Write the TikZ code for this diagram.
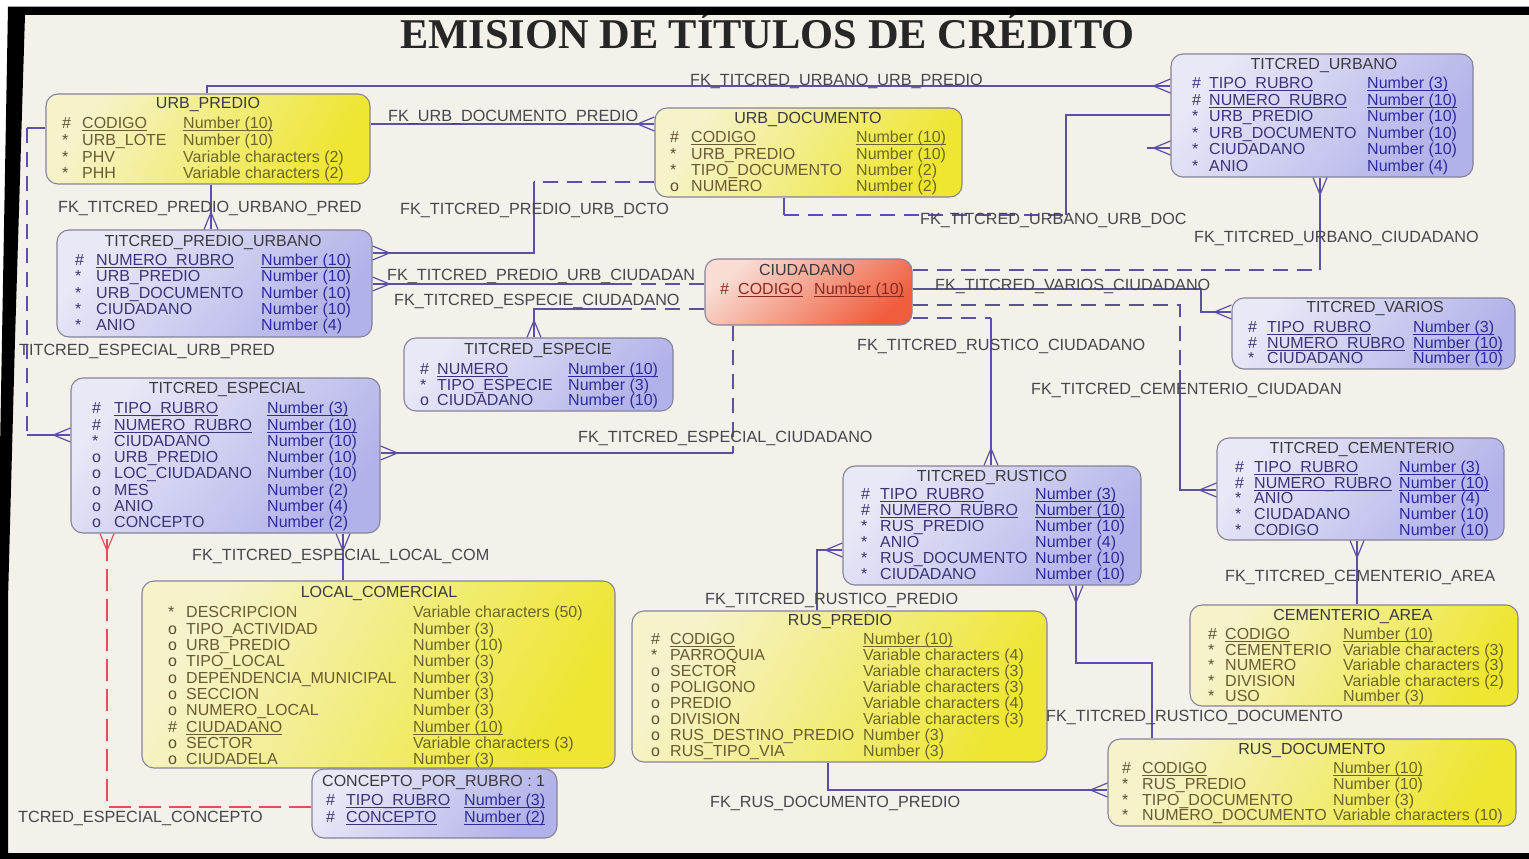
\documentclass[tikz,border=0pt]{standalone}
\usepackage{fontspec}
\setmainfont{Liberation Sans}
\newfontfamily\ttlfont{Liberation Serif}
\usetikzlibrary{decorations.markings}

\definecolor{bgc}{HTML}{F4F1EB}
\definecolor{fkc}{HTML}{5B50A5}
\definecolor{redc}{HTML}{E0505A}
\definecolor{lblc}{HTML}{46464C}
\definecolor{ttlc}{HTML}{3A3A3E}
\definecolor{bordc}{HTML}{85839A}
\definecolor{yA}{HTML}{F6F3CC}
\definecolor{yB}{HTML}{EEE631}
\definecolor{bA}{HTML}{E8E8F7}
\definecolor{bB}{HTML}{B2B2EA}
\definecolor{rA}{HTML}{F9DDD4}
\definecolor{rB}{HTML}{F05E3E}
\definecolor{ysym}{HTML}{5E5030}
\definecolor{ytxt}{HTML}{6A5A34}
\definecolor{ytyp}{HTML}{6C6628}
\definecolor{bsym}{HTML}{3A3475}
\definecolor{btxt}{HTML}{3A3478}
\definecolor{btyp}{HTML}{2D2C9A}
\definecolor{rsym}{HTML}{8A2A20}
\definecolor{rtxt}{HTML}{8A2A20}
\definecolor{rtyp}{HTML}{8A2A20}

\newcommand\uln[1]{\setbox0=\hbox{#1}\rlap{\rule[-2.3pt]{\wd0}{0.7pt}}\box0}
\newcommand\erows[5]{\vtop{\baselineskip=#1pt\lineskiplimit=-100pt\lineskip=0pt\def\symw{#2pt}\def\namew{#3pt}\def\csym{#4sym}\def\ctxt{#4txt}\def\ctyp{#4typ}#5}}
\newcommand\er[3]{\hbox{\makebox[\symw][l]{\color{\csym}#1}\makebox[\namew][l]{\color{\ctxt}#2}{\color{\ctyp}#3}}}

\tikzset{
  ent/.style={draw=bordc, line width=1.1pt, rounded corners=12pt, inner sep=0pt},
  yent/.style={ent, top color=yA, bottom color=yB, shading angle=60},
  bent/.style={ent, top color=bA, bottom color=bB, shading angle=50},
  rent/.style={ent, top color=rA, bottom color=rB, shading angle=40},
  ttl/.style={font=\fontsize{16}{18}\selectfont, text=ttlc, inner sep=0pt, anchor=base},
  rows/.style={font=\fontsize{16}{16.3}\selectfont, inner sep=0pt, anchor=base west},
  lbl/.style={font=\fontsize{16.2}{18}\selectfont, text=lblc, inner sep=0pt, anchor=base west},
  fk/.style={draw=fkc, line width=1.2pt},
  dsh/.style={dash pattern=on 15pt off 9pt},
  rdsh/.style={dash pattern=on 22pt off 8pt},
  crow/.style={postaction={decorate, decoration={markings, mark=at position 1 with {\draw[line width=1.2pt, solid, #1] (-17pt,0pt) -- (0pt,7pt) (-17pt,0pt) -- (0pt,-7pt);}}}},
  crow/.default=fkc
}

\begin{document}
\begin{tikzpicture}[x=1pt,y=-1pt]
\useasboundingbox (0,0) rectangle (1529,859);
\fill[white] (0,0) rectangle (1529,859);
\fill[bgc] (25,15) -- (1529,15) -- (1529,853) -- (8,853) -- (8,600) -- (15,340) -- cycle;

% title
\node[font=\ttlfont\bfseries\fontsize{42.4}{50}\selectfont, text=black!85, inner sep=0pt, anchor=base] (title) at (767.5,48.5) {EMISION DE TÍTULOS DE CRÉDITO};

% entity boxes
\node[yent, minimum width=324pt, minimum height=90pt] (urbpredio) at (208,139) {};
\node[yent, minimum width=307pt, minimum height=89pt] (urbdoc) at (808.5,152.5) {};
\node[bent, minimum width=302pt, minimum height=123pt] (titurbano) at (1322,115.5) {};
\node[bent, minimum width=315pt, minimum height=107pt] (titpredurb) at (214.5,283.5) {};
\node[rent, minimum width=207pt, minimum height=66pt] (ciudadano) at (808.5,292) {};
\node[bent, minimum width=283pt, minimum height=71pt] (titvarios) at (1373.5,333.5) {};
\node[bent, minimum width=269pt, minimum height=73pt] (titespecie) at (538.5,374.5) {};
\node[bent, minimum width=309pt, minimum height=155pt] (titespecial) at (225.5,455.5) {};
\node[bent, minimum width=287pt, minimum height=102pt] (titcement) at (1360.5,489) {};
\node[bent, minimum width=298pt, minimum height=119pt] (titrustico) at (992,525.5) {};
\node[yent, minimum width=473pt, minimum height=187pt] (localcom) at (378.5,674.5) {};
\node[bent, minimum width=245pt, minimum height=69pt] (concepto) at (434.5,803.5) {};
\node[yent, minimum width=415pt, minimum height=151pt] (ruspredio) at (839.5,686.5) {};
\node[yent, minimum width=328pt, minimum height=101pt] (cemarea) at (1354,655.5) {};
\node[yent, minimum width=408pt, minimum height=87pt] (rusdoc) at (1312,782.5) {};

% bend coordinates
\coordinate (dA) at (534,182);
\coordinate (eA) at (620,284);
\coordinate (fA) at (620,309);
\coordinate (gA) at (27,128);
\coordinate (gB) at (27,435);
\coordinate (hA) at (733,453);
\coordinate (jA) at (107,807);
\coordinate (kA) at (784,215);
\coordinate (kB) at (1066,215);
\coordinate (kC) at (1147,148);
\coordinate (lA) at (1320,270);
\coordinate (mA) at (1201,289);
\coordinate (nA) at (991,318);
\coordinate (oA) at (1180,305);
\coordinate (oB) at (1180,370);
\coordinate (rA) at (1152,663);

% connectors
\draw[fk,crow] (urbpredio.north -| 207,0) |- (titurbano.west |- 0,86);
\draw[fk,crow] (urbpredio.east |- 0,124) -- (urbdoc.west |- 0,124);
\draw[fk,crow] (urbpredio.south -| 211,0) -- (titpredurb.north -| 211,0);
\draw[fk,dsh] (urbdoc.west |- dA) -- (dA);
\draw[fk,crow] (dA) |- (titpredurb.east |- 0,253);
\draw[fk,dsh] (ciudadano.west |- eA) -- (eA);
\draw[fk,crow] (eA) -- (titpredurb.east |- eA);
\draw[fk,dsh] (ciudadano.west |- fA) -- (fA);
\draw[fk,crow] (fA) -| (titespecie.north -| dA);
\draw[fk] (urbpredio.west |- gA) -- (gA);
\draw[fk,dsh] (gA) -- (gB);
\draw[fk,crow] (gB) -- (titespecial.west |- gB);
\draw[fk,dsh] (ciudadano.south -| hA) -- (hA);
\draw[fk,crow] (hA) -- (titespecial.east |- hA);
\draw[fk,crow] (localcom.north -| 343,0) -- (titespecial.south -| 343,0);
\draw[draw=redc, line width=1.1pt, rdsh, crow=redc] (concepto.west |- jA) -- (jA) -- (titespecial.south -| jA);
\draw[fk] (urbdoc.south -| kA) -- (kA);
\draw[fk,dsh] (kA) -- (kB);
\draw[fk] (kB) |- (titurbano.west |- 0,115);
\draw[fk,crow] (kC) -- (titurbano.west |- kC);
\draw[fk,dsh] (ciudadano.east |- lA) -- (lA);
\draw[fk,crow] (lA) -- (titurbano.south -| lA);
\draw[fk,crow] (ciudadano.east |- mA) -- (mA) |- (titvarios.west |- 0,312);
\draw[fk,dsh] (ciudadano.east |- nA) -- (nA);
\draw[fk,crow] (nA) -- (titrustico.north -| nA);
\draw[fk,dsh] (ciudadano.east |- oA) -- (oA) -- (oB);
\draw[fk,crow] (oB) |- (titcement.west |- 0,490);
\draw[fk,crow] (cemarea.north -| 1357,0) -- (titcement.south -| 1357,0);
\draw[fk,crow] (ruspredio.north -| 817,0) |- (titrustico.west |- 0,550);
\draw[fk,crow] (rusdoc.north -| rA) -- (rA) -| (titrustico.south -| 1076,0);
\draw[fk,crow] (ruspredio.south -| 828,0) |- (rusdoc.west |- 0,790);

% entity titles
\node[ttl] (urbpredio-t) at (208,108.7) {URB\_PREDIO};
\node[ttl] (urbdoc-t) at (808,123.5) {URB\_DOCUMENTO};
\node[ttl] (titurbano-t) at (1324,69.5) {TITCRED\_URBANO};
\node[ttl] (titpredurb-t) at (213,246.7) {TITCRED\_PREDIO\_URBANO};
\node[ttl] (ciudadano-t) at (807,275.7) {CIUDADANO};
\node[ttl] (titvarios-t) at (1375,312.7) {TITCRED\_VARIOS};
\node[ttl] (titespecie-t) at (538,354.7) {TITCRED\_ESPECIE};
\node[ttl] (titespecial-t) at (227,393.7) {TITCRED\_ESPECIAL};
\node[ttl] (titcement-t) at (1362,453.7) {TITCRED\_CEMENTERIO};
\node[ttl] (titrustico-t) at (992,481.7) {TITCRED\_RUSTICO};
\node[ttl] (localcom-t) at (379,597.7) {LOCAL\_COMERCIAL};
\node[ttl, anchor=base west] (concepto-t) at (322,786.7) {CONCEPTO\_POR\_RUBRO : 1};
\node[ttl] (ruspredio-t) at (840,625.7) {RUS\_PREDIO};
\node[ttl] (cemarea-t) at (1353,620.7) {CEMENTERIO\_AREA};
\node[ttl] (rusdoc-t) at (1312,754.7) {RUS\_DOCUMENTO};

% entity rows
\node[rows] (urbpredio-r) at (62,128.7) {\erows{16.7}{20}{101}{y}{%
 \er{\#}{\uln{CODIGO}}{\uln{Number (10)}}%
 \er{*}{URB\_LOTE}{Number (10)}%
 \er{*}{PHV}{Variable characters (2)}%
 \er{*}{PHH}{Variable characters (2)}}};
\node[rows] (urbdoc-r) at (670,142.7) {\erows{16.3}{21}{165}{y}{%
 \er{\#}{\uln{CODIGO}}{\uln{Number (10)}}%
 \er{*}{URB\_PREDIO}{Number (10)}%
 \er{*}{TIPO\_DOCUMENTO}{Number (2)}%
 \er{o}{NUMERO}{Number (2)}}};
\node[rows] (titurbano-r) at (1192,88.7) {\erows{16.5}{17}{158}{b}{%
 \er{\#}{\uln{TIPO\_RUBRO}}{\uln{Number (3)}}%
 \er{\#}{\uln{NUMERO\_RUBRO}}{\uln{Number (10)}}%
 \er{*}{URB\_PREDIO}{Number (10)}%
 \er{*}{URB\_DOCUMENTO}{Number (10)}%
 \er{*}{CIUDADANO}{Number (10)}%
 \er{*}{ANIO}{Number (4)}}};
\node[rows] (titpredurb-r) at (75,265.7) {\erows{16.25}{21}{165}{b}{%
 \er{\#}{\uln{NUMERO\_RUBRO}}{\uln{Number (10)}}%
 \er{*}{URB\_PREDIO}{Number (10)}%
 \er{*}{URB\_DOCUMENTO}{Number (10)}%
 \er{*}{CIUDADANO}{Number (10)}%
 \er{*}{ANIO}{Number (4)}}};
\node[rows] (ciudadano-r) at (720,294.7) {\erows{16}{18}{76}{r}{%
 \er{\#}{\uln{CODIGO}}{\uln{Number (10)}}}};
\node[rows] (titvarios-r) at (1248,332.7) {\erows{15.5}{19}{146}{b}{%
 \er{\#}{\uln{TIPO\_RUBRO}}{\uln{Number (3)}}%
 \er{\#}{\uln{NUMERO\_RUBRO}}{\uln{Number (10)}}%
 \er{*}{CIUDADANO}{Number (10)}}};
\node[rows] (titespecie-r) at (420,374.7) {\erows{15.5}{17}{131}{b}{%
 \er{\#}{\uln{NUMERO}}{\uln{Number (10)}}%
 \er{*}{TIPO\_ESPECIE}{Number (3)}%
 \er{o}{CIUDADANO}{Number (10)}}};
\node[rows] (titespecial-r) at (92,413.7) {\erows{16.3}{22}{153}{b}{%
 \er{\#}{\uln{TIPO\_RUBRO}}{\uln{Number (3)}}%
 \er{\#}{\uln{NUMERO\_RUBRO}}{\uln{Number (10)}}%
 \er{*}{CIUDADANO}{Number (10)}%
 \er{o}{URB\_PREDIO}{Number (10)}%
 \er{o}{LOC\_CIUDADANO}{Number (10)}%
 \er{o}{MES}{Number (2)}%
 \er{o}{ANIO}{Number (4)}%
 \er{o}{CONCEPTO}{Number (2)}}};
\node[rows] (titcement-r) at (1235,472.7) {\erows{15.6}{19}{145}{b}{%
 \er{\#}{\uln{TIPO\_RUBRO}}{\uln{Number (3)}}%
 \er{\#}{\uln{NUMERO\_RUBRO}}{\uln{Number (10)}}%
 \er{*}{ANIO}{Number (4)}%
 \er{*}{CIUDADANO}{Number (10)}%
 \er{*}{CODIGO}{Number (10)}}};
\node[rows] (titrustico-r) at (861,499.7) {\erows{16}{19}{155}{b}{%
 \er{\#}{\uln{TIPO\_RUBRO}}{\uln{Number (3)}}%
 \er{\#}{\uln{NUMERO\_RUBRO}}{\uln{Number (10)}}%
 \er{*}{RUS\_PREDIO}{Number (10)}%
 \er{*}{ANIO}{Number (4)}%
 \er{*}{RUS\_DOCUMENTO}{Number (10)}%
 \er{*}{CIUDADANO}{Number (10)}}};
\node[rows] (localcom-r) at (168,617.7) {\erows{16.33}{18}{227}{y}{%
 \er{*}{DESCRIPCION}{Variable characters (50)}%
 \er{o}{TIPO\_ACTIVIDAD}{Number (3)}%
 \er{o}{URB\_PREDIO}{Number (10)}%
 \er{o}{TIPO\_LOCAL}{Number (3)}%
 \er{o}{DEPENDENCIA\_MUNICIPAL}{Number (3)}%
 \er{o}{SECCION}{Number (3)}%
 \er{o}{NUMERO\_LOCAL}{Number (3)}%
 \er{\#}{\uln{CIUDADANO}}{\uln{Number (10)}}%
 \er{o}{SECTOR}{Variable characters (3)}%
 \er{o}{CIUDADELA}{Number (3)}}};
\node[rows] (concepto-r) at (326,805.7) {\erows{17}{20}{118}{b}{%
 \er{\#}{\uln{TIPO\_RUBRO}}{\uln{Number (3)}}%
 \er{\#}{\uln{CONCEPTO}}{\uln{Number (2)}}}};
\node[rows] (ruspredio-r) at (651,644.7) {\erows{16}{19}{193}{y}{%
 \er{\#}{\uln{CODIGO}}{\uln{Number (10)}}%
 \er{*}{PARROQUIA}{Variable characters (4)}%
 \er{o}{SECTOR}{Variable characters (3)}%
 \er{o}{POLIGONO}{Variable characters (3)}%
 \er{o}{PREDIO}{Variable characters (4)}%
 \er{o}{DIVISION}{Variable characters (3)}%
 \er{o}{RUS\_DESTINO\_PREDIO}{Number (3)}%
 \er{o}{RUS\_TIPO\_VIA}{Number (3)}}};
\node[rows] (cemarea-r) at (1208,639.7) {\erows{15.5}{17}{118}{y}{%
 \er{\#}{\uln{CODIGO}}{\uln{Number (10)}}%
 \er{*}{CEMENTERIO}{Variable characters (3)}%
 \er{*}{NUMERO}{Variable characters (3)}%
 \er{*}{DIVISION}{Variable characters (2)}%
 \er{*}{USO}{Number (3)}}};
\node[rows] (rusdoc-r) at (1122,773.7) {\erows{15.7}{20}{191}{y}{%
 \er{\#}{\uln{CODIGO}}{\uln{Number (10)}}%
 \er{*}{RUS\_PREDIO}{Number (10)}%
 \er{*}{TIPO\_DOCUMENTO}{Number (3)}%
 \er{*}{NUMERO\_DOCUMENTO}{Variable characters (10)}}};

% relationship labels
\node[lbl] (L1) at (690,85.7) {FK\_TITCRED\_URBANO\_URB\_PREDIO};
\node[lbl] (L2) at (388,121.7) {FK\_URB\_DOCUMENTO\_PREDIO};
\node[lbl] (L3) at (58,212.7) {FK\_TITCRED\_PREDIO\_URBANO\_PRED};
\node[lbl] (L4) at (400,214.7) {FK\_TITCRED\_PREDIO\_URB\_DCTO};
\node[lbl] (L5) at (387,280.7) {FK\_TITCRED\_PREDIO\_URB\_CIUDADAN};
\node[lbl] (L6) at (394,305.7) {FK\_TITCRED\_ESPECIE\_CIUDADANO};
\node[lbl] (L7) at (920,224.7) {FK\_TITCRED\_URBANO\_URB\_DOC};
\node[lbl] (L8) at (1194,242.7) {FK\_TITCRED\_URBANO\_CIUDADANO};
\node[lbl] (L9) at (935,290.7) {FK\_TITCRED\_VARIOS\_CIUDADANO};
\node[lbl] (L10) at (857,350.7) {FK\_TITCRED\_RUSTICO\_CIUDADANO};
\node[lbl] (L11) at (1031,394.7) {FK\_TITCRED\_CEMENTERIO\_CIUDADAN};
\node[lbl] (L12) at (19,355.7) {TITCRED\_ESPECIAL\_URB\_PRED};
\node[lbl] (L13) at (578,442.7) {FK\_TITCRED\_ESPECIAL\_CIUDADANO};
\node[lbl] (L14) at (192,560.7) {FK\_TITCRED\_ESPECIAL\_LOCAL\_COM};
\node[lbl] (L15) at (1225,581.7) {FK\_TITCRED\_CEMENTERIO\_AREA};
\node[lbl] (L16) at (705,604.7) {FK\_TITCRED\_RUSTICO\_PREDIO};
\node[lbl] (L17) at (1046,721.7) {FK\_TITCRED\_RUSTICO\_DOCUMENTO};
\node[lbl] (L18) at (710,807.7) {FK\_RUS\_DOCUMENTO\_PREDIO};
\node[lbl] (L19) at (18,822.7) {TCRED\_ESPECIAL\_CONCEPTO};

% photo frame
\fill[black, even odd rule] (8,6.7) -- (1529,6.7) -- (1529,859) -- (0,859) -- (0,450) -- cycle
  (25,15) -- (1529,15) -- (1529,853) -- (8,853) -- (8,600) -- (15,340) -- cycle;
\end{tikzpicture}
\end{document}
